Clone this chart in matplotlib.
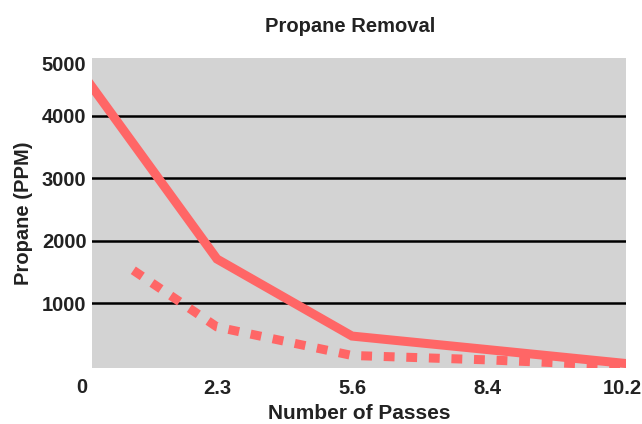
import numpy as np
import matplotlib.pyplot as plt
import matplotlib.transforms as mtrans

plt.rcParams['font.family'] = ['Liberation Sans', 'DejaVu Sans']
plt.rcParams['font.weight'] = 'bold'

# data
passes = ['0', '2.3', '5.6', '8.4', '10.2']
solid_ppm = [4680, 1710, 480, 265, 48]
dashed_pos = [0.38, 1, 2, 3, 4]
dashed_ppm = [1530, 625, 170, 100, 10]
grid_ppm = [1000, 2000, 3000, 4000]

red = '#ff6666'
txt = '#222222'

fig = plt.figure(figsize=(6.42, 4.24), dpi=100)
ax = fig.add_axes([92/642, 1-368/424, (626-92)/642, (368-58)/424])
ax.set_facecolor('#d3d3d3')

x = np.arange(len(passes))
for y in grid_ppm:
    ax.axhline(y, color='black', lw=1.8, zorder=1)

ax.plot(x, solid_ppm, color=red, lw=6.5, solid_joinstyle='miter', zorder=3)
ax.plot(dashed_pos, dashed_ppm, color=red, lw=6.5, dashes=(1.2, 1.3),
        dash_capstyle='butt', zorder=2)

# first category sits just left of the grey plot area
ax.set_xlim(0.074, 4.03)
ax.set_ylim(-30, 4920)
ax.set_xticks(x[1:])
ax.set_xticklabels(passes[1:], fontsize=14.5, fontweight='bold', color=txt)
trans = mtrans.blended_transform_factory(ax.transData, ax.transAxes)
ax.text(x[0], -0.062, passes[0], transform=trans, ha='center', va='center',
        fontsize=14.5, fontweight='bold', color=txt, clip_on=False)

# top label sits at the upper edge of the plot area
ax.set_yticks(grid_ppm + [4840])
ax.set_yticklabels(['1000', '2000', '3000', '4000', '5000'], fontsize=14.5,
                   fontweight='bold', color=txt)
ax.tick_params(length=0)
ax.tick_params(axis='x', pad=8)
ax.tick_params(axis='y', pad=4)
for s in ax.spines.values():
    s.set_visible(False)

ax.set_xlabel('Number of Passes', fontsize=15, fontweight='bold', color=txt, labelpad=4)
ax.set_ylabel('Propane (PPM)', fontsize=14.5, fontweight='bold', color=txt, labelpad=6)
fig.text(350/642, 1-26/424, 'Propane Removal', ha='center', va='center',
         fontsize=14.5, fontweight='bold', color=txt)

fig.savefig('out.png', dpi=100)
